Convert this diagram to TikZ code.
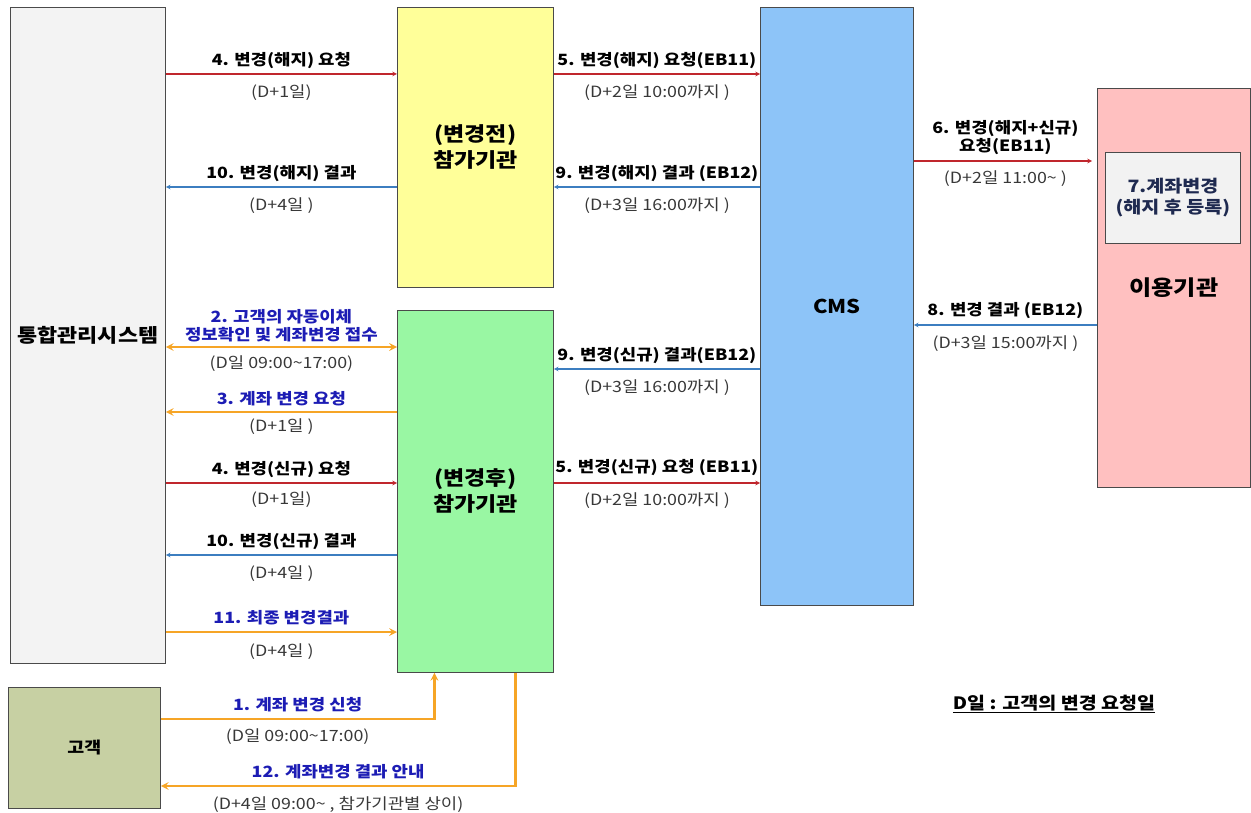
\documentclass[tikz,border=0pt]{standalone}
\usepackage{fontspec}
\setmainfont{Noto Sans CJK KR}[FakeStretch=1.15]
\usetikzlibrary{positioning}

\definecolor{boxline}{HTML}{4A4A4A}
\definecolor{tmsfill}{HTML}{F3F3F3}
\definecolor{prefill}{HTML}{FFFF99}
\definecolor{postfill}{HTML}{99F7A3}
\definecolor{cmsfill}{HTML}{8DC4F8}
\definecolor{userfill}{HTML}{FFC0C0}
\definecolor{chgfill}{HTML}{F2F2F2}
\definecolor{custfill}{HTML}{C7D0A3}
\definecolor{reqred}{HTML}{C0262D}
\definecolor{resblue}{HTML}{3C7EC0}
\definecolor{custorange}{HTML}{F6A526}
\definecolor{steptext}{HTML}{1C1CB4}
\definecolor{datetext}{HTML}{383838}
\definecolor{chgtext}{HTML}{1F2A50}

\tikzset{
  box/.style={draw=boxline, line width=0.8pt, anchor=north west, align=center, inner sep=0pt},
  req/.style={reqred, line width=1.1pt, -stealth},
  res/.style={resblue, line width=1.1pt, -stealth},
  cst/.style={custorange, line width=2.4pt, -stealth},
  lbl/.style={font=\fontsize{15.5}{18}\selectfont\bfseries, text=black, inner sep=1pt, align=center},
  bluelbl/.style={lbl, text=steptext},
  datelbl/.style={font=\fontsize{15.5}{17}\selectfont, text=datetext, inner sep=1pt}
}

\begin{document}
\begin{tikzpicture}[x=1pt,y=-1pt]
  \useasboundingbox (0,0) rectangle (1251,813);
  % boxes
  \node[box, fill=tmsfill, minimum width=155pt, minimum height=656pt, font=\fontsize{19}{22}\selectfont\bfseries] (tms) at (10,7) {통합관리시스템};
  \node[box, fill=prefill, minimum width=156pt, minimum height=280pt, font=\fontsize{20}{26}\selectfont\bfseries] (pre) at (397,7) {(변경전)\\참가기관};
  \node[box, fill=postfill, minimum width=156pt, minimum height=362pt, font=\fontsize{20}{26}\selectfont\bfseries] (post) at (397,310) {(변경후)\\참가기관};
  \node[box, fill=cmsfill, minimum width=153pt, minimum height=598pt, font=\fontsize{19}{22}\selectfont\bfseries] (cms) at (760,7) {CMS};
  \node[box, fill=userfill, minimum width=153pt, minimum height=399pt, font=\fontsize{21}{24}\selectfont\bfseries] (user) at (1097,88) {이용기관};
  \node[box, fill=chgfill, minimum width=135pt, minimum height=91pt, text=chgtext, font=\fontsize{17}{21}\selectfont\bfseries] (chg) at (1105,152) {7.계좌변경\\(해지 후 등록)};
  \node[box, fill=custfill, minimum width=152pt, minimum height=121pt, font=\fontsize{16}{20}\selectfont\bfseries] (cust) at (8,687) {고객};

  % 통합관리시스템 <-> 참가기관
  \draw[req] (tms.east |- 0,74) -- (pre.west |- 0,74)
    node[lbl, midway, above=4pt] {4. 변경(해지) 요청}
    node[datelbl, midway, below=9pt] {(D+1일)};
  \draw[res] (pre.west |- 0,187) -- (tms.east |- 0,187)
    node[lbl, midway, above=4pt] {10. 변경(해지) 결과}
    node[datelbl, midway, below=9pt] {(D+4일 )};
  \draw[cst, stealth-stealth] (tms.east |- 0,347) -- (post.west |- 0,347)
    node[bluelbl, midway, above=3pt] {2. 고객의 자동이체\\정보확인 및 계좌변경 접수}
    node[datelbl, midway, below=6pt] {(D일 09:00\textasciitilde17:00)};
  \draw[cst] (post.west |- 0,412) -- (tms.east |- 0,412)
    node[bluelbl, midway, above=4pt] {3. 계좌 변경 요청}
    node[datelbl, midway, below=4pt] {(D+1일 )};
  \draw[req] (tms.east |- 0,483) -- (post.west |- 0,483)
    node[lbl, midway, above=4pt] {4. 변경(신규) 요청}
    node[datelbl, midway, below=7pt] {(D+1일)};
  \draw[res] (post.west |- 0,555) -- (tms.east |- 0,555)
    node[lbl, midway, above=4pt] {10. 변경(신규) 결과}
    node[datelbl, midway, below=9pt] {(D+4일 )};
  \draw[cst] (tms.east |- 0,632) -- (post.west |- 0,632)
    node[bluelbl, midway, above=5pt] {11. 최종 변경결과}
    node[datelbl, midway, below=9pt] {(D+4일 )};

  % 참가기관 <-> CMS
  \draw[req] (pre.east |- 0,74) -- (cms.west |- 0,74)
    node[lbl, midway, above=4pt] {5. 변경(해지) 요청(EB11)}
    node[datelbl, midway, below=9pt] {(D+2일 10:00까지 )};
  \draw[res] (cms.west |- 0,187) -- (pre.east |- 0,187)
    node[lbl, midway, above=4pt] {9. 변경(해지) 결과 (EB12)}
    node[datelbl, midway, below=9pt] {(D+3일 16:00까지 )};
  \draw[res] (cms.west |- 0,369) -- (post.east |- 0,369)
    node[lbl, midway, above=4pt] {9. 변경(신규) 결과(EB12)}
    node[datelbl, midway, below=9pt] {(D+3일 16:00까지 )};
  \draw[req] (post.east |- 0,483) -- (cms.west |- 0,483)
    node[lbl, midway, above=6pt] {5. 변경(신규) 요청 (EB11)}
    node[datelbl, midway, below=8pt] {(D+2일 10:00까지 )};

  % CMS <-> 이용기관
  \draw[req, shorten >=5pt] (cms.east |- 0,161) -- (user.west |- 0,161)
    node[lbl, midway, above=5pt] {6. 변경(해지+신규)\\요청(EB11)}
    node[datelbl, midway, below=8pt] {(D+2일 11:00\textasciitilde{} )};
  \draw[res] (user.west |- 0,325) -- (cms.east |- 0,325)
    node[lbl, midway, above=5pt] {8. 변경 결과 (EB12)}
    node[datelbl, midway, below=9pt] {(D+3일 15:00까지 )};

  % 고객 <-> 변경후 참가기관
  \draw[cst] (cust.east |- 0,719) -| ([xshift=-41pt]post.south)
    node[bluelbl, pos=0.25, above=5pt] {1. 계좌 변경 신청}
    node[datelbl, pos=0.25, below=7pt] {(D일 09:00\textasciitilde17:00)};
  \draw[cst] ([xshift=40pt]post.south) |- (cust.east |- 0,786)
    node[bluelbl, pos=0.75, above=5pt] {12. 계좌변경 결과 안내}
    node[datelbl, pos=0.75, below=8pt] {(D+4일 09:00\textasciitilde{} , 참가기관별 상이)};

  \node[font=\fontsize{17}{20}\selectfont\bfseries] (note) at (1054,704) {\underline{D일 : 고객의 변경 요청일}};
\end{tikzpicture}
\end{document}
